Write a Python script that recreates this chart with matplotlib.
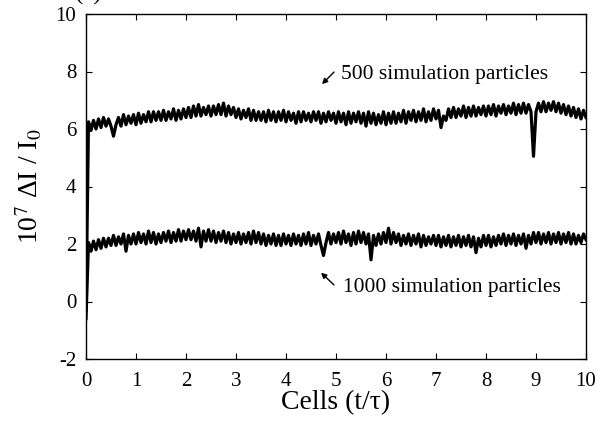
import numpy as np
import matplotlib
matplotlib.use('Agg')
import matplotlib.pyplot as plt

plt.rcParams['font.family'] = ['Liberation Serif', 'DejaVu Serif']
plt.rcParams['mathtext.fontset'] = 'stix'
plt.rcParams['axes.unicode_minus'] = False

# time axis in cells, one sample every 0.05
cells = np.linspace(0, 10, 201)

# 10^7 dI/I0, 500 simulation particles
p500 = [-0.3, 6.25, 5.95, 6.3, 6.0, 6.35, 6.05, 6.4, 6.1, 6.35,
        6.1, 5.75, 6.15, 6.4, 6.1, 6.5, 6.15, 6.45, 6.2, 6.5,
        6.15, 6.55, 6.2, 6.5, 6.25, 6.6, 6.25, 6.6, 6.3, 6.6,
        6.3, 6.65, 6.3, 6.6, 6.35, 6.7, 6.3, 6.65, 6.35, 6.7,
        6.4, 6.75, 6.4, 6.8, 6.45, 6.85, 6.45, 6.75, 6.5, 6.8,
        6.45, 6.8, 6.5, 6.85, 6.5, 6.9, 6.45, 6.8, 6.5, 6.75,
        6.4, 6.7, 6.35, 6.65, 6.4, 6.7, 6.3, 6.65, 6.3, 6.6,
        6.3, 6.6, 6.25, 6.65, 6.3, 6.6, 6.25, 6.6, 6.3, 6.65,
        6.25, 6.6, 6.3, 6.55, 6.2, 6.6, 6.25, 6.6, 6.3, 6.55,
        6.25, 6.6, 6.3, 6.6, 6.2, 6.55, 6.25, 6.6, 6.3, 6.55,
        6.2, 6.6, 6.25, 6.55, 6.15, 6.6, 6.2, 6.55, 6.25, 6.6,
        6.2, 6.55, 6.1, 6.6, 6.2, 6.55, 6.15, 6.5, 6.2, 6.6,
        6.15, 6.55, 6.2, 6.6, 6.2, 6.55, 6.25, 6.65, 6.2, 6.6,
        6.3, 6.65, 6.25, 6.6, 6.3, 6.7, 6.25, 6.6, 6.3, 6.7,
        6.35, 6.65, 6.05, 6.45, 6.3, 6.7, 6.4, 6.75, 6.4, 6.7,
        6.45, 6.8, 6.4, 6.75, 6.45, 6.8, 6.45, 6.75, 6.5, 6.8,
        6.45, 6.8, 6.5, 6.85, 6.45, 6.8, 6.55, 6.85, 6.5, 6.8,
        6.55, 6.9, 6.5, 6.85, 6.55, 6.9, 6.55, 6.85, 6.6, 5.05,
        6.6, 6.9, 6.6, 6.95, 6.6, 6.9, 6.65, 6.95, 6.6, 6.9,
        6.55, 6.85, 6.5, 6.8, 6.45, 6.75, 6.4, 6.7, 6.35, 6.65,
        6.4]

# 10^7 dI/I0, 1000 simulation particles
p1000 = [-0.6, 2.05, 1.75, 2.1, 1.8, 2.15, 1.85, 2.2, 1.9, 2.2,
         1.95, 2.3, 1.95, 2.25, 2.0, 2.35, 1.75, 2.3, 2.0, 2.35,
         2.0, 2.4, 2.05, 2.35, 2.0, 2.45, 2.05, 2.4, 2.0, 2.35,
         2.05, 2.4, 2.1, 2.45, 2.05, 2.4, 2.1, 2.5, 2.1, 2.45,
         2.15, 2.5, 2.15, 2.45, 2.1, 2.55, 1.9, 2.45, 2.1, 2.5,
         2.1, 2.45, 2.05, 2.4, 2.1, 2.45, 2.05, 2.4, 2.0, 2.35,
         2.05, 2.4, 2.0, 2.35, 2.05, 2.4, 2.0, 2.45, 2.05, 2.4,
         2.0, 2.35, 1.95, 2.3, 2.0, 2.35, 1.95, 2.3, 1.95, 2.35,
         2.0, 2.3, 1.95, 2.35, 2.0, 2.3, 1.95, 2.35, 2.0, 2.4,
         1.95, 2.3, 2.0, 2.35, 1.95, 1.6, 2.05, 2.4, 2.0, 2.35,
         2.05, 2.4, 2.0, 2.45, 2.05, 2.35, 1.95, 2.4, 2.0, 2.45,
         2.05, 2.4, 2.0, 2.35, 1.45, 2.3, 1.95, 2.35, 2.0, 2.4,
         2.05, 2.55, 2.0, 2.4, 2.05, 2.35, 1.95, 2.3, 2.0, 2.35,
         1.95, 2.3, 2.0, 2.35, 1.9, 2.3, 1.95, 2.25, 2.0, 2.3,
         1.95, 2.3, 1.9, 2.25, 1.95, 2.3, 1.9, 2.25, 1.95, 2.3,
         1.9, 2.25, 1.95, 2.3, 1.9, 2.25, 1.7, 2.2, 1.9, 2.3,
         1.95, 2.3, 1.9, 2.25, 1.95, 2.3, 2.0, 2.35, 1.95, 2.3,
         2.0, 2.35, 1.95, 2.3, 2.0, 2.35, 1.85, 2.3, 2.0, 2.4,
         2.05, 2.4, 2.0, 2.35, 2.05, 2.4, 2.0, 2.35, 2.05, 2.4,
         2.0, 2.35, 2.05, 2.4, 2.0, 2.35, 2.0, 2.3, 2.05, 2.35,
         2.15]

fig = plt.figure(figsize=(5.98, 4.21), dpi=100)
ax = fig.add_axes([86/598, 1-359/421, 500/598, 345/421])

ax.plot(cells, p500, color='black', lw=2.3)
ax.plot(cells, p1000, color='black', lw=2.3)

ax.set_xlim(0, 10)
ax.set_ylim(-2, 10)
ax.set_xticks(range(0, 11))
ax.set_yticks(range(-2, 11, 2))
ax.tick_params(axis='x', pad=9)
ax.tick_params(axis='y', pad=7)
ax.tick_params(direction='in', top=True, right=True, length=4, labelsize=15)
for s in ax.spines.values():
    s.set_linewidth(1.0)
ax.set_xlabel('Cells (t/τ)', fontsize=20, labelpad=0)
ax.set_ylabel(r'10$^7$ ΔI / I$_0$', fontsize=20, labelpad=8)

ax.annotate('', xy=(4.68, 7.49), xytext=(5.0, 8.05),
            arrowprops=dict(arrowstyle='-|>', color='black', lw=1, mutation_scale=8))
ax.text(5.1, 7.91, '500 simulation particles', fontsize=15.5, va='center')
ax.annotate('', xy=(4.66, 1.07), xytext=(5.0, 0.51),
            arrowprops=dict(arrowstyle='-|>', color='black', lw=1, mutation_scale=8))
ax.text(5.14, 0.48, '1000 simulation particles', fontsize=15.5, va='center')

fig.text(75/598, 1.015, '(a)', fontsize=18, va='center')

fig.savefig('out.png', dpi=100)
